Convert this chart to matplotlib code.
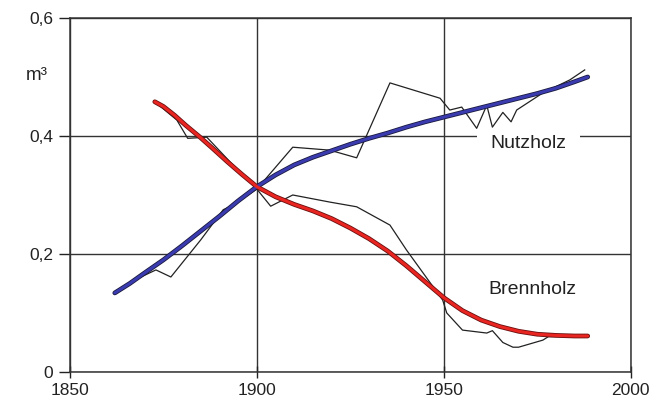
import matplotlib
matplotlib.use('Agg')
from matplotlib import pyplot as plt

plt.rcParams['font.family'] = ['Liberation Sans', 'DejaVu Sans']

# smooth trend curves
nutz_trend_x = [1862, 1866, 1870, 1875, 1880, 1885, 1890, 1895, 1900, 1905, 1910, 1915, 1920, 1925, 1930,
                1935, 1940, 1945, 1950, 1955, 1960, 1965, 1970, 1975, 1980, 1985, 1988.5]
nutz_trend_y = [0.134, 0.15, 0.168, 0.19, 0.214, 0.239, 0.264, 0.29, 0.314, 0.334, 0.351, 0.364, 0.375, 0.386, 0.396,
                0.405, 0.415, 0.424, 0.432, 0.44, 0.448, 0.456, 0.464, 0.472, 0.481, 0.492, 0.5]
brenn_trend_x = [1872.7, 1875, 1878, 1881, 1884.8, 1888, 1892, 1896, 1900, 1905, 1910, 1915, 1920, 1925, 1930,
                 1935, 1940, 1945, 1950, 1955, 1960, 1965, 1970, 1975, 1980, 1985, 1988.5]
brenn_trend_y = [0.458, 0.45, 0.435, 0.418, 0.398, 0.38, 0.357, 0.335, 0.314, 0.297, 0.284, 0.273, 0.26, 0.244, 0.226,
                 0.205, 0.18, 0.153, 0.126, 0.104, 0.088, 0.077, 0.069, 0.064, 0.062, 0.061, 0.061]

# yearly values (thin lines)
nutz_x = [1862, 1868, 1873, 1877, 1885, 1891, 1893.6, 1900, 1909.6, 1919.5, 1926.7, 1935.6, 1949, 1951.6, 1954.8,
          1958.8, 1961.5, 1963, 1965.8, 1968, 1969.5, 1976.5, 1983.7, 1987.7]
nutz_y = [0.134, 0.158, 0.173, 0.161, 0.224, 0.275, 0.283, 0.31, 0.381, 0.376, 0.363, 0.49, 0.464, 0.444, 0.449,
          0.413, 0.452, 0.415, 0.44, 0.424, 0.444, 0.473, 0.495, 0.512]
brenn_x = [1872.7, 1878.6, 1881.5, 1886.6, 1893, 1900, 1903.7, 1909.6, 1919.5, 1926.7, 1935.6, 1940, 1949.7, 1950.8,
           1955, 1961.5, 1963, 1965.8, 1968.5, 1970, 1976.5, 1978, 1988.5]
brenn_y = [0.458, 0.427, 0.396, 0.398, 0.355, 0.31, 0.281, 0.30, 0.288, 0.28, 0.249, 0.207, 0.122, 0.10,
           0.071, 0.066, 0.07, 0.05, 0.042, 0.042, 0.054, 0.06, 0.061]

xticks = [1850, 1900, 1950, 2000]
yticks = [0, 0.2, 0.4, 0.6]
ytick_labels = ['0', '0,2', '0,4', '0,6']

fig = plt.figure(figsize=(6.66, 4.09), dpi=100)
ax = fig.add_axes([0.105, 0.0905, 0.842, 0.8655])

ax.set_xlim(1850, 2000)
ax.set_ylim(0, 0.6)
ax.set_xticks(xticks)
ax.set_yticks(yticks)
ax.set_yticklabels(ytick_labels)
ax.tick_params(axis='both', labelsize=12.5, colors='#222222', width=1)
ax.tick_params(axis='y', direction='out', length=8, pad=4)
ax.tick_params(axis='x', direction='inout', length=8, pad=4)
for s in ax.spines.values():
    s.set_color('#333333')
    s.set_linewidth(1.1)
ax.grid(True, color='#333333', linewidth=1.0)

ax.plot(nutz_x, nutz_y, color='#222222', lw=0.9, zorder=3)
ax.plot(brenn_x, brenn_y, color='#222222', lw=0.9, zorder=3)

ax.plot(nutz_trend_x, nutz_trend_y, color='#1a1a40', lw=3.4, solid_capstyle='round', solid_joinstyle='round', zorder=4)
ax.plot(nutz_trend_x, nutz_trend_y, color='#3b3bb0', lw=2.2, solid_capstyle='round', solid_joinstyle='round', zorder=5)
ax.plot(brenn_trend_x, brenn_trend_y, color='#6a1010', lw=3.4, solid_capstyle='round', solid_joinstyle='round', zorder=4)
ax.plot(brenn_trend_x, brenn_trend_y, color='#e82520', lw=2.2, solid_capstyle='round', solid_joinstyle='round', zorder=5)

ax.text(1972.7, 0.388, 'Nutzholz', fontsize=14, color='#222222', ha='center', va='center',
        bbox=dict(facecolor='white', edgecolor='none', boxstyle='square,pad=0.7'), zorder=2)
ax.text(1973.8, 0.139, 'Brennholz', fontsize=14, color='#222222', ha='center', va='center', zorder=6)
ax.text(-0.04, 0.503, 'm³', transform=ax.get_yaxis_transform(), fontsize=13.5, color='#222222',
        ha='right', va='center')

fig.savefig('out.png', dpi=100)
